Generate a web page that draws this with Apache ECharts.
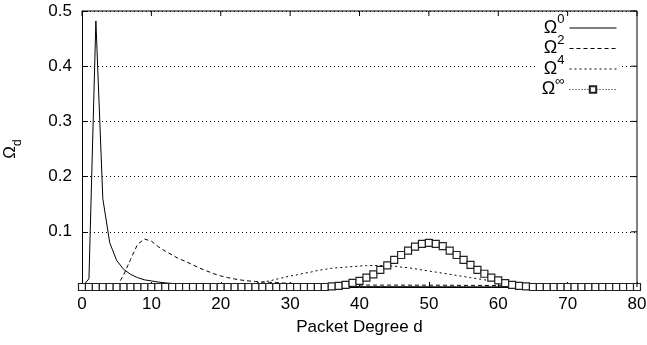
<!DOCTYPE html>
<html>
<head>
<meta charset="utf-8">
<script src="https://cdn.jsdelivr.net/npm/echarts@6/dist/echarts.min.js"></script>
<style>
html,body{margin:0;padding:0;background:#fff;}
#chart{width:647px;height:345px;background:#fff;}
</style>
</head>
<body>
<div id="chart"></div>
<script>
// Packet degree d = 0..80
var degrees = [];
for (var i = 0; i <= 80; i++) degrees.push(i);

var xTicks = [0, 10, 20, 30, 40, 50, 60, 70, 80];
var yTicks = [0.1, 0.2, 0.3, 0.4, 0.5];

var seriesNames = ['Ω^0', 'Ω^2', 'Ω^4', 'Ω^∞'];

// Omega^0 (d = 0..80)
var omega0 = [
  0, 0.015, 0.482, 0.16, 0.08, 0.048, 0.032, 0.023, 0.017, 0.013,
  0.011, 0.009, 0.0075, 0.0064, 0.0055, 0.0048, 0.0042, 0.0037, 0.0033, 0.0029,
  0.0026, 0.0024, 0.0022, 0.002, 0.0018, 0.0017, 0.0015, 0.0014, 0.0013, 0.0012,
  0.0011, 0.001, 0.001, 0.0009, 0.0009, 0.0008, 0.0008, 0.0007, 0.0007, 0.0007,
  0.0006, 0.0006, 0.0006, 0.0006, 0.0005, 0.0005, 0.0005, 0.0005, 0.0005, 0.0004,
  0.0004, 0.0004, 0.0004, 0.0004, 0.0004, 0.0004, 0.0003, 0.0003, 0.0003, 0.0003,
  0.0003, 0.0003, 0.0003, 0.0003, 0.0003, 0.0003, 0.0002, 0.0002, 0.0002, 0.0002,
  0.0002, 0.0002, 0.0002, 0.0002, 0.0002, 0.0002, 0.0002, 0.0002, 0.0002, 0.0002,
  0.0002
];

// Omega^2
var omega2 = [
  0, 0, 0, 0, 0, 0, 0.022, 0.05, 0.077, 0.087,
  0.083, 0.073, 0.065, 0.058, 0.051, 0.046, 0.04, 0.034, 0.029, 0.024,
  0.02, 0.017, 0.0145, 0.0125, 0.011, 0.01, 0.009, 0.0085, 0.008, 0.0072,
  0.0066, 0.006, 0.0055, 0.005, 0.0046, 0.0043, 0.004, 0.0038, 0.0037, 0.0036,
  0.0035, 0.0035, 0.0034, 0.0034, 0.0034, 0.0034, 0.0033, 0.0033, 0.0033, 0.0033,
  0.0033, 0.0033, 0.0032, 0.0032, 0.0031, 0.003, 0.003, 0.0029, 0.0028, 0.0026,
  0.0024, 0.002, 0.0015, 0.001, 0.0006, 0.0003, 0.0001, 0, 0, 0,
  0, 0, 0, 0, 0, 0, 0, 0, 0, 0,
  0
];

// Omega^4
var omega4 = [
  0, 0, 0, 0, 0, 0, 0, 0, 0, 0,
  0, 0, 0, 0, 0, 0, 0, 0, 0, 0.0005,
  0.001, 0.0015, 0.002, 0.0035, 0.005, 0.007, 0.009, 0.011, 0.014, 0.017,
  0.02, 0.022, 0.025, 0.027, 0.03, 0.032, 0.034, 0.035, 0.036, 0.037,
  0.038, 0.0387, 0.039, 0.039, 0.0385, 0.038, 0.036, 0.035, 0.033, 0.031,
  0.029, 0.027, 0.025, 0.023, 0.021, 0.019, 0.017, 0.015, 0.013, 0.011,
  0.009, 0.007, 0.005, 0.0035, 0.002, 0.001, 0.0005, 0, 0, 0,
  0, 0, 0, 0, 0, 0, 0, 0, 0, 0,
  0
];

// Omega^inf
var omegaInf = [
  0, 0, 0, 0, 0, 0, 0, 0, 0, 0,
  0, 0, 0, 0, 0, 0, 0, 0, 0, 0,
  0, 0, 0, 0, 0, 0, 0, 0, 0, 0,
  0, 0, 0, 0, 0, 0, 0.001, 0.002, 0.004, 0.0075,
  0.011, 0.017, 0.023, 0.031, 0.039, 0.049, 0.058, 0.066, 0.073, 0.078,
  0.08, 0.078, 0.074, 0.066, 0.058, 0.049, 0.04, 0.031, 0.024, 0.017,
  0.012, 0.007, 0.004, 0.002, 0.001, 0, 0, 0, 0, 0,
  0, 0, 0, 0, 0, 0, 0, 0, 0, 0,
  0
];

function pairs(vals) {
  return degrees.map(function (d, i) { return [d, vals[i]]; });
}

var FONT = 'Liberation Sans';
var X_MIN = 0, X_MAX = 80, Y_MIN = 0, Y_MAX = 0.5;
var chart = echarts.init(document.getElementById('chart'), null, {renderer: 'canvas'});

var legendRich = {
  o: {fontSize: 18, lineHeight: 24, verticalAlign: 'bottom', fontFamily: FONT, color: '#000'},
  s: {fontSize: 13, lineHeight: 13, verticalAlign: 'top', fontFamily: FONT, color: '#000'}
};

var dashTypes = ['solid', [4, 3], [2, 3], [1, 2]];

// Mirror frame pieces (top + right border and their inward ticks), in data space
var framePaths = [
  [[X_MIN, Y_MAX], [X_MAX, Y_MAX], [X_MAX, Y_MIN]]
];
xTicks.forEach(function (v) {
  framePaths.push([[v, Y_MAX], [v, Y_MAX - (Y_MAX - Y_MIN) * 5 / 276]]);
});
yTicks.forEach(function (v) {
  framePaths.push([[X_MAX, v], [X_MAX - (X_MAX - X_MIN) * 6 / 555, v]]);
});

var dataSeries = [{
  name: seriesNames[0], type: 'line', data: pairs(omega0),
  symbol: 'none', lineStyle: {color: '#000', width: 1, type: dashTypes[0]},
  itemStyle: {color: '#000'}, z: 3
}, {
  name: seriesNames[1], type: 'line', data: pairs(omega2),
  symbol: 'none', lineStyle: {color: '#000', width: 1, type: dashTypes[1]},
  itemStyle: {color: '#000'}, z: 3
}, {
  name: seriesNames[2], type: 'line', data: pairs(omega4),
  symbol: 'none', lineStyle: {color: '#000', width: 1, type: dashTypes[2]},
  itemStyle: {color: '#000'}, z: 3
}, {
  name: seriesNames[3], type: 'line', data: pairs(omegaInf),
  symbol: 'rect', symbolSize: 7, showAllSymbol: true,
  lineStyle: {color: '#333', width: 1, type: dashTypes[3]},
  itemStyle: {color: '#fff', borderColor: '#222', borderWidth: 1.2}, z: 4
}];

var frameSeries = framePaths.map(function (p, k) {
  return {
    name: 'frame' + k, type: 'line', data: p, symbol: 'none', silent: true,
    clip: false, z: 10, animation: false,
    lineStyle: {color: '#000', width: 1, type: 'solid'},
    itemStyle: {color: '#000'}, tooltip: {show: false}
  };
});

var option = {
  animation: false,
  textStyle: {fontFamily: FONT},
  grid: {left: 82, right: 10, top: 11, bottom: 58, containLabel: false,
    outerBoundsMode: 'none'},
  legend: {
    orient: 'vertical',
    right: 28,
    top: 12,
    align: 'right',
    itemWidth: 47,
    itemHeight: 8,
    itemGap: -3.5,
    padding: [1, 2, 1, 4],
    backgroundColor: '#fff',
    data: seriesNames.map(function (n, i) {
      var item = {name: n, lineStyle: {width: 1, color: '#000', type: dashTypes[i]}};
      if (i < 3) item.itemStyle = {opacity: 0};
      return item;
    }),
    formatter: function (name) {
      var sup = name.split('^')[1];
      return '{o|Ω}{s|' + sup + '}';
    },
    textStyle: {rich: legendRich, padding: [0, 0, 6, 0]}
  },
  xAxis: [{
    type: 'value', min: X_MIN, max: X_MAX, interval: 10,
    position: 'bottom',
    name: 'Packet Degree d', nameLocation: 'middle', nameGap: 32,
    nameTextStyle: {fontSize: 17, color: '#000', fontFamily: FONT},
    axisLine: {show: true, onZero: false, lineStyle: {color: '#000', width: 1}},
    axisTick: {show: true, inside: true, length: 5, lineStyle: {color: '#000'}},
    axisLabel: {fontSize: 17, color: '#000', margin: 9, fontFamily: FONT,
      formatter: function (v) { return xTicks.indexOf(v) >= 0 ? String(v) : ''; }},
    splitLine: {show: false}
  }],
  yAxis: [{
    type: 'value', min: Y_MIN, max: Y_MAX, interval: 0.1,
    position: 'left',
    name: '{a|Ω}{b|d}', nameLocation: 'middle', nameGap: 58, nameRotate: 90,
    nameTextStyle: {rich: {
      a: {fontSize: 17, color: '#000', fontFamily: FONT, verticalAlign: 'top', lineHeight: 22},
      b: {fontSize: 12, color: '#000', fontFamily: FONT, verticalAlign: 'bottom', lineHeight: 12}
    }},
    axisLine: {show: true, onZero: false, lineStyle: {color: '#000', width: 1}},
    axisTick: {show: true, inside: true, length: 6, lineStyle: {color: '#000'}},
    axisLabel: {fontSize: 17, color: '#000', margin: 10, fontFamily: FONT,
      formatter: function (v) {
        for (var k = 0; k < yTicks.length; k++) {
          if (Math.abs(yTicks[k] - v) < 1e-9) return yTicks[k].toFixed(1);
        }
        return '';
      }},
    splitLine: {show: true, lineStyle: {color: '#000', width: 1, type: [1, 3]}}
  }],
  series: dataSeries.concat(frameSeries)
};
chart.setOption(option);
</script>
</body>
</html>
